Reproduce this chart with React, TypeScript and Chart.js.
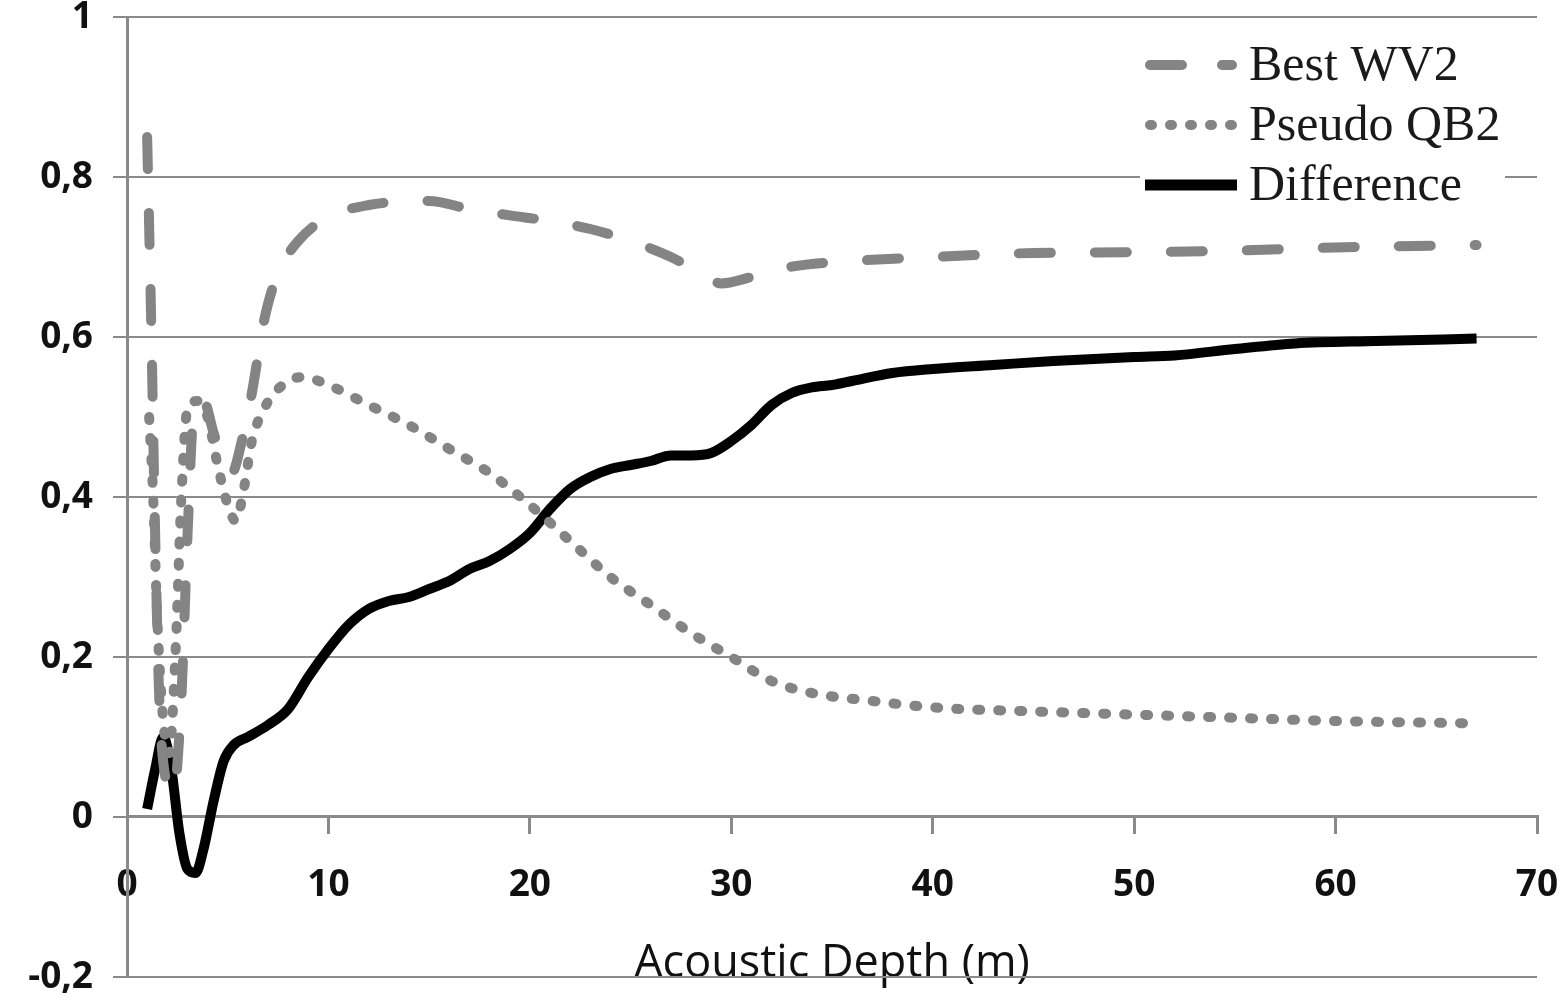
import { useEffect, useRef } from 'react';
import Chart from 'chart.js/auto';
import type { ChartConfiguration, Plugin, Scale } from 'chart.js';

// depth (m) and values
const bestX = [1, 1.2, 1.4, 1.6, 1.9, 2.3, 2.7, 3.0, 3.3, 3.8, 4.3, 4.7, 5.2, 5.7, 6.2, 6.8, 7.5, 8.5, 10, 12, 15, 17, 19, 21, 23, 25, 27, 28.5, 29.5, 31, 33, 36, 40, 45, 50, 55, 60, 67];
const bestY = [0.85, 0.62, 0.35, 0.15, 0.05, 0.03, 0.15, 0.35, 0.5, 0.52, 0.48, 0.45, 0.43, 0.47, 0.53, 0.62, 0.68, 0.72, 0.75, 0.765, 0.77, 0.76, 0.752, 0.745, 0.735, 0.72, 0.7, 0.68, 0.667, 0.675, 0.688, 0.695, 0.7, 0.705, 0.706, 0.708, 0.712, 0.715];

const pseudoX = [1.1, 1.3, 1.5, 1.8, 2.1, 2.4, 2.7, 3.0, 3.5, 4.0, 4.5, 5.0, 5.4, 5.8, 6.2, 6.8, 7.5, 8.7, 10, 12, 14, 16, 18, 20, 22, 24, 26, 28, 30, 32, 34, 37, 40, 45, 50, 55, 60, 67];
const pseudoY = [0.5, 0.4, 0.25, 0.12, 0.08, 0.2, 0.4, 0.51, 0.52, 0.5, 0.44, 0.39, 0.37, 0.41, 0.47, 0.51, 0.535, 0.55, 0.54, 0.515, 0.49, 0.46, 0.43, 0.39, 0.345, 0.3, 0.265, 0.23, 0.2, 0.17, 0.155, 0.145, 0.137, 0.132, 0.128, 0.124, 0.12, 0.117];

const diffX = [1, 1.4, 1.8, 2.2, 2.6, 3.0, 3.4, 3.8, 4.3, 4.8, 5.3, 6, 7, 8, 9, 10, 11, 12, 13, 14, 15, 16, 17, 18, 19, 20, 21, 22, 23, 24, 25, 26, 27, 28, 29, 30, 31, 32, 33, 34, 35, 36, 38, 40, 43, 46, 50, 52, 55, 58, 62, 67];
const diffY = [0.01, 0.06, 0.1, 0.06, -0.02, -0.065, -0.07, -0.04, 0.02, 0.07, 0.09, 0.1, 0.115, 0.135, 0.175, 0.21, 0.24, 0.26, 0.27, 0.275, 0.285, 0.295, 0.31, 0.32, 0.335, 0.355, 0.385, 0.41, 0.425, 0.435, 0.44, 0.445, 0.452, 0.452, 0.455, 0.47, 0.49, 0.515, 0.53, 0.537, 0.54, 0.545, 0.555, 0.56, 0.565, 0.57, 0.575, 0.577, 0.585, 0.592, 0.595, 0.598];

const seriesNames = ['Best WV2', 'Pseudo QB2', 'Difference'];

const GREY = '#848484';
const GRID = '#8a8a8a';

const toPoints = (xs: number[], ys: number[]) => xs.map((x, i) => ({ x, y: ys[i] }));

// stop tick labels from pushing the plot area inwards
const noOverflow = (scale: Scale) => {
  scale.paddingTop = 0;
  scale.paddingBottom = 0;
  scale.paddingLeft = 0;
  scale.paddingRight = 0;
};

// legend drawn inside the plot, top right, on a white patch
const insideLegend: Plugin = {
  id: 'insideLegend',
  afterDraw(chart) {
    const { ctx, chartArea } = chart;
    const left = chartArea.right - 392;
    const top = chartArea.top;
    ctx.save();
    ctx.fillStyle = '#ffffff';
    ctx.fillRect(left - 5, top + 15, 365, 195);

    const rows = [top + 48, top + 108, top + 168];
    const x0 = left;
    const x1 = left + 92;

    ctx.lineWidth = 10;
    // dashed
    ctx.strokeStyle = GREY;
    ctx.lineCap = 'round';
    ctx.setLineDash([32, 40]);
    ctx.beginPath();
    ctx.moveTo(x0 + 5, rows[0]);
    ctx.lineTo(x1 - 5, rows[0]);
    ctx.stroke();
    // dotted
    ctx.setLineDash([2, 18]);
    ctx.beginPath();
    ctx.moveTo(x0 + 5, rows[1]);
    ctx.lineTo(x1, rows[1]);
    ctx.stroke();
    // solid
    ctx.setLineDash([]);
    ctx.lineCap = 'butt';
    ctx.strokeStyle = '#000';
    ctx.lineWidth = 11;
    ctx.beginPath();
    ctx.moveTo(x0, rows[2]);
    ctx.lineTo(x1, rows[2]);
    ctx.stroke();

    ctx.fillStyle = '#1a1a1a';
    ctx.font = '50px "Liberation Serif", serif';
    ctx.textBaseline = 'middle';
    ctx.textAlign = 'left';
    seriesNames.forEach((n, i) => ctx.fillText(n, x1 + 12, rows[i] + 2));
    ctx.restore();
  },
};

export default function App() {
  const canvasRef = useRef<HTMLCanvasElement>(null);
  const chartRef = useRef<Chart | null>(null);

  useEffect(() => {
    document.body.style.margin = '0';
    const canvas = canvasRef.current;
    if (!canvas) return;
    if (chartRef.current) {
      chartRef.current.destroy();
      chartRef.current = null;
    }

    const tickFont = { family: '"Open Sans", sans-serif', size: 37, weight: 'bold' as const };

    const config: ChartConfiguration<'line'> = {
      type: 'line',
      data: {
        datasets: [
          {
            label: seriesNames[0],
            data: toPoints(bestX, bestY),
            borderColor: GREY,
            borderWidth: 10,
            borderDash: [32, 44],
            borderCapStyle: 'round',
            pointRadius: 0,
            cubicInterpolationMode: 'monotone',
          },
          {
            label: seriesNames[1],
            data: toPoints(pseudoX, pseudoY),
            borderColor: GREY,
            borderWidth: 10,
            borderDash: [3, 18],
            borderCapStyle: 'round',
            pointRadius: 0,
            cubicInterpolationMode: 'monotone',
          },
          {
            label: seriesNames[2],
            data: toPoints(diffX, diffY),
            borderColor: '#000',
            borderWidth: 10,
            pointRadius: 0,
            cubicInterpolationMode: 'monotone',
          },
        ],
      },
      options: {
        animation: false,
        responsive: true,
        maintainAspectRatio: false,
        layout: { padding: { top: 17, bottom: 23, right: 30, left: 0 } },
        plugins: { legend: { display: false }, tooltip: { enabled: false } },
        scales: {
          x: {
            type: 'linear',
            position: { y: 0 },
            min: 0,
            max: 70,
            afterFit: noOverflow,
            ticks: {
              stepSize: 10,
              color: '#111',
              padding: 30,
              font: tickFont,
            },
            grid: { drawOnChartArea: false, color: GRID, lineWidth: 3, tickLength: 16 },
            border: { color: GRID, width: 3 },
            title: {
              display: true,
              text: 'Acoustic Depth (m)',
              color: '#111',
              padding: { top: 0, bottom: 0 },
              font: { family: '"Open Sans", sans-serif', size: 45 },
            },
          },
          y: {
            min: -0.2,
            max: 1,
            afterFit: (scale) => {
              noOverflow(scale);
              scale.width = 127;
            },
            ticks: {
              stepSize: 0.2,
              color: '#111',
              padding: 20,
              font: tickFont,
              callback: (v) => String(Math.round(Number(v) * 10) / 10).replace('.', ','),
            },
            grid: { color: GRID, lineWidth: 2, tickLength: 14 },
            border: { color: GRID, width: 3 },
          },
        },
      },
      plugins: [insideLegend],
    };

    chartRef.current = new Chart(canvas, config);
    return () => {
      if (chartRef.current) {
        chartRef.current.destroy();
        chartRef.current = null;
      }
    };
  }, []);

  return (
    <div style={{ width: '1567px', height: '1000px', position: 'relative', background: '#fff' }}>
      <canvas ref={canvasRef} />
    </div>
  );
}
